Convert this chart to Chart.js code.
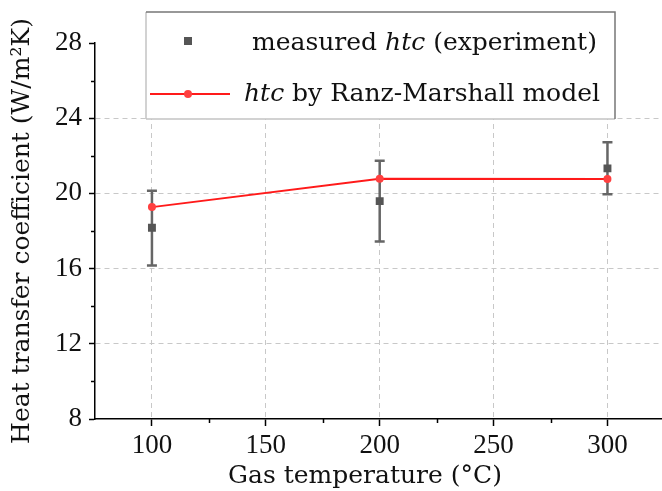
<!DOCTYPE html>
<html>
<head>
<meta charset="utf-8">
<script src="https://cdn.jsdelivr.net/npm/chart.js@4.4.1/dist/chart.umd.min.js"></script>
<style>
  html, body { margin:0; padding:0; background:#fff; overflow:hidden; }
  #wrap { width:670px; height:496px; }
</style>
</head>
<body>
<div id="wrap"><canvas id="c" width="670" height="496"></canvas></div>
<script>
'use strict';

// data
const temps       = [100, 200, 300];
const measuredHtc = [18.17, 19.59, 21.33];
const measuredLo  = [16.16, 17.44, 19.95];
const measuredHi  = [20.14, 21.74, 22.72];
const modelHtc    = [19.27, 20.78, 20.77];

const xTicks      = [100, 150, 200, 250, 300];
const xMinorTicks = [125, 175, 225, 275];
const yMinorTicks = [10, 14, 18, 22, 26];

const xTitle = 'Gas temperature (°C)';
const yTitle = 'Heat transfer coefficient (W/m²K)';

const TICK_FONT = '"Liberation Serif", serif';
const TEXT_FONT = '"DejaVu Serif", serif';
const TEXT_SIZE = 25;

const pts = (xs, ys) => xs.map((x, i) => ({ x, y: ys[i] }));

const errorBars = {
  id: 'errorBars',
  beforeDatasetsDraw(chart) {
    const { ctx, scales:{ x, y } } = chart;
    ctx.save();
    ctx.strokeStyle = '#666';
    ctx.lineWidth = 2.5;
    temps.forEach((t, i) => {
      const px = x.getPixelForValue(t);
      const lo = y.getPixelForValue(measuredLo[i]);
      const hi = y.getPixelForValue(measuredHi[i]);
      ctx.beginPath();
      ctx.moveTo(px, lo); ctx.lineTo(px, hi);
      ctx.moveTo(px - 5, lo); ctx.lineTo(px + 5, lo);
      ctx.moveTo(px - 5, hi); ctx.lineTo(px + 5, hi);
      ctx.stroke();
    });
    ctx.restore();
  }
};

const minorTicks = {
  id: 'minorTicks',
  afterDraw(chart) {
    const { ctx, chartArea:a, scales:{ x, y } } = chart;
    ctx.save();
    ctx.strokeStyle = '#000';
    ctx.lineWidth = 1.5;
    ctx.beginPath();
    xMinorTicks.forEach(v => {
      const px = Math.round(x.getPixelForValue(v)) + 0.5;
      ctx.moveTo(px, a.bottom); ctx.lineTo(px, a.bottom + 4);
    });
    yMinorTicks.forEach(v => {
      const py = Math.round(y.getPixelForValue(v)) + 0.5;
      ctx.moveTo(a.left, py); ctx.lineTo(a.left - 4, py);
    });
    ctx.stroke();

    // x title sits a bit left of the axis centre in the original
    ctx.fillStyle = '#111';
    ctx.font = `${TEXT_SIZE}px ${TEXT_FONT}`;
    ctx.textAlign = 'center';
    ctx.textBaseline = 'middle';
    ctx.fillText(xTitle, 365, 476);
    ctx.restore();
  }
};

// legend box sits over the plot, drawn last
const legendBox = {
  id: 'legendBox',
  afterDraw(chart) {
    const ctx = chart.ctx;
    const L = 146, T = 12, R = 615, B = 119;
    ctx.save();
    ctx.fillStyle = '#fff';
    ctx.fillRect(L, T, R - L, B - T);
    ctx.lineWidth = 1.5;
    ctx.strokeStyle = '#c4c4c4';
    ctx.beginPath(); ctx.moveTo(L, B); ctx.lineTo(L, T); ctx.moveTo(L, B); ctx.lineTo(R, B); ctx.stroke();
    ctx.strokeStyle = '#777';
    ctx.beginPath(); ctx.moveTo(L, T); ctx.lineTo(R, T); ctx.lineTo(R, B); ctx.stroke();

    // row 1: measured
    ctx.fillStyle = '#555';
    ctx.fillRect(184, 37, 8, 8);
    // row 2: model
    ctx.strokeStyle = '#ff1a1a';
    ctx.lineWidth = 2;
    ctx.beginPath(); ctx.moveTo(150, 94); ctx.lineTo(230, 94); ctx.stroke();
    ctx.fillStyle = '#ff4040';
    ctx.beginPath(); ctx.arc(188, 94, 4, 0, Math.PI * 2); ctx.fill();

    const seg = (parts, x, yb) => {
      parts.forEach(([txt, it]) => {
        ctx.font = `${it ? 'italic ' : ''}${TEXT_SIZE}px ${TEXT_FONT}`;
        ctx.fillText(txt, x, yb);
        x += ctx.measureText(txt).width;
      });
    };
    ctx.fillStyle = '#111';
    ctx.textBaseline = 'alphabetic';
    seg([['measured ', false], ['htc', true], [' (experiment)', false]], 252, 50);
    seg([['htc', true], [' by Ranz-Marshall model', false]], 244, 101);
    ctx.restore();
  }
};

const gridColor = ctx => {
  const v = ctx.tick && ctx.tick.value;
  return (v === 8 || v === 28) ? 'rgba(0,0,0,0)' : '#c8c8c8';
};

new Chart(document.getElementById('c'), {
  type: 'line',
  data: {
    datasets: [
      {
        label: 'measured htc (experiment)',
        data: pts(temps, measuredHtc),
        showLine: false,
        pointStyle: 'rect',
        pointRadius: 5.6,
        pointBackgroundColor: '#555',
        pointBorderWidth: 0,
        borderColor: '#555',
        order: 0
      },
      {
        label: 'htc by Ranz-Marshall model',
        data: pts(temps, modelHtc),
        borderColor: '#ff1a1a',
        borderWidth: 2,
        pointRadius: 4,
        pointBackgroundColor: '#ff4040',
        pointBorderWidth: 0,
        order: 1
      }
    ]
  },
  options: {
    responsive: false,
    animation: false,
    layout: { padding: { top: 43, left: 0, right: 0, bottom: 0 } },
    plugins: { legend: { display: false }, tooltip: { enabled: false } },
    scales: {
      x: {
        type: 'linear',
        min: 75, max: 325,
        afterBuildTicks: s => { s.ticks = xTicks.map(v => ({ value: v })); },
        afterFit: s => { s.height = 77; },
        border: { color: '#000', width: 1.5, dash: [5, 4] },
        grid: { color: gridColor, lineWidth: 1, tickLength: 7, tickColor: '#000', tickWidth: 1.5, tickBorderDash: [] },
        ticks: { color: '#111', padding: 4, font: { family: TICK_FONT, size: 27 } },
        title: { display: false }
      },
      y: {
        min: 8, max: 28,
        ticks: { stepSize: 4, color: '#111', padding: 7, font: { family: TICK_FONT, size: 27 } },
        afterFit: s => { s.width = 95; },
        border: { color: '#000', width: 1.5, dash: [5, 4] },
        grid: { color: gridColor, lineWidth: 1, tickLength: 6, tickColor: '#000', tickWidth: 1.5, tickBorderDash: [] },
        title: { display: true, text: yTitle, color: '#111', padding: { top: 7 }, font: { family: TEXT_FONT, size: TEXT_SIZE } }
      }
    }
  },
  plugins: [errorBars, minorTicks, legendBox]
});
</script>
</body>
</html>
